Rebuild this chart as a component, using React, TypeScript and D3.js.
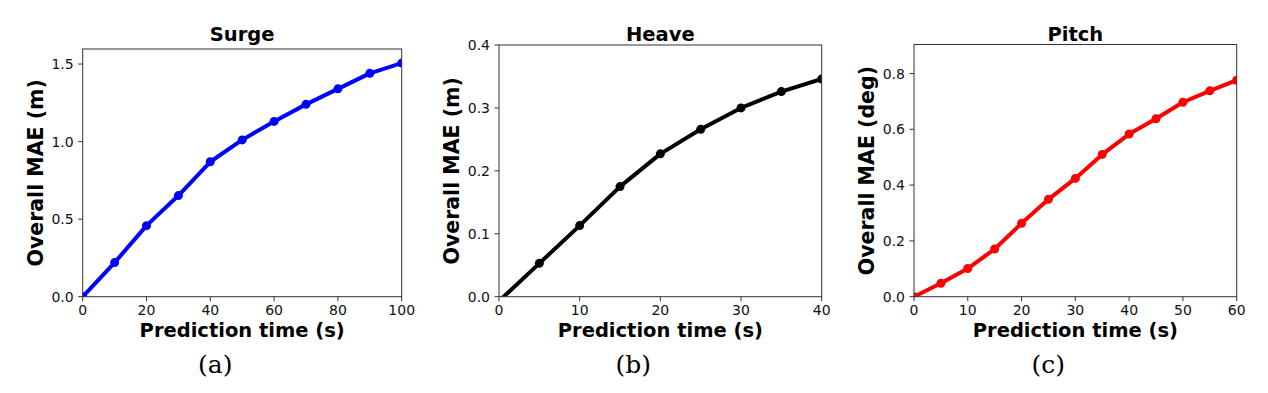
import React from 'react';
import * as d3 from 'd3';

// Prediction times (s) and overall MAE per panel
const surgeTimes = [0, 10, 20, 30, 40, 50, 60, 70, 80, 90, 100];
const surgeMae = [0, 0.22, 0.458, 0.652, 0.87, 1.011, 1.13, 1.24, 1.34, 1.44, 1.506];

const heaveTimes = [0, 5, 10, 15, 20, 25, 30, 35, 40];
const heaveMae = [-0.007, 0.053, 0.113, 0.175, 0.227, 0.266, 0.3, 0.326, 0.346];

const pitchTimes = [0, 5, 10, 15, 20, 25, 30, 35, 40, 45, 50, 55, 60];
const pitchMae = [0, 0.048, 0.101, 0.171, 0.263, 0.349, 0.424, 0.51, 0.583, 0.638, 0.697, 0.738, 0.776];

const surgeXTicks = [0, 20, 40, 60, 80, 100];
const surgeYTicks = [0, 0.5, 1.0, 1.5];
const heaveXTicks = [0, 10, 20, 30, 40];
const heaveYTicks = [0, 0.1, 0.2, 0.3, 0.4];
const pitchXTicks = [0, 10, 20, 30, 40, 50, 60];
const pitchYTicks = [0, 0.2, 0.4, 0.6, 0.8];

const titles = ['Surge', 'Heave', 'Pitch'];
const yLabels = ['Overall MAE (m)', 'Overall MAE (m)', 'Overall MAE (deg)'];
const subLabels = ['(a)', '(b)', '(c)'];
const xLabel = 'Prediction time (s)';

const W = 1268;
const H = 393;
const FONT = '"DejaVu Sans", sans-serif';

type PanelProps = {
  idx: number;
  box: { left: number; right: number; top: number; bottom: number };
  times: number[];
  values: number[];
  xDomain: [number, number];
  yDomain: [number, number];
  xTicks: number[];
  yTicks: number[];
  color: string;
};

const Panel = ({ idx, box, times, values, xDomain, yDomain, xTicks, yTicks, color }: PanelProps) => {
  const x = d3.scaleLinear().domain(xDomain).range([box.left, box.right]);
  const y = d3.scaleLinear().domain(yDomain).range([box.bottom, box.top]);
  const pts = times.map((t, i) => [t, values[i]] as [number, number]);
  const line = d3.line<[number, number]>()
    .x(d => x(d[0]))
    .y(d => y(d[1]));
  const cx = (box.left + box.right) / 2;
  const cy = (box.top + box.bottom) / 2;
  const clipId = 'clip' + idx;
  const yFmt = d3.format('.1f');

  return (
    <g>
      <defs>
        <clipPath id={clipId}>
          <rect x={box.left} y={box.top} width={box.right - box.left} height={box.bottom - box.top} />
        </clipPath>
      </defs>

      <g clipPath={`url(#${clipId})`}>
        <path d={line(pts) || ''} fill="none" stroke={color} strokeWidth={4} strokeLinejoin="round" />
        {pts.map((d, i) => (
          <circle key={i} cx={x(d[0])} cy={y(d[1])} r={4.5} fill={color} />
        ))}
      </g>

      <rect x={box.left} y={box.top} width={box.right - box.left} height={box.bottom - box.top}
        fill="none" stroke="#333" strokeWidth={1} />

      {xTicks.map(t => (
        <g key={'x' + t}>
          <line x1={x(t)} x2={x(t)} y1={box.bottom} y2={box.bottom + 4.5} stroke="#333" />
          <text x={x(t)} y={315} textAnchor="middle" fontSize={14} fontFamily={FONT} fill="#111">{t}</text>
        </g>
      ))}
      {yTicks.map(t => (
        <g key={'y' + t}>
          <line x1={box.left - 4.5} x2={box.left} y1={y(t)} y2={y(t)} stroke="#333" />
          <text x={box.left - 9} y={y(t)} dy="0.36em" textAnchor="end" fontSize={14} fontFamily={FONT} fill="#111">{yFmt(t)}</text>
        </g>
      ))}

      <text x={cx} y={40.7} textAnchor="middle" fontSize={19.5} fontWeight="bold" fontFamily={FONT}>{titles[idx]}</text>
      <text x={cx} y={337} textAnchor="middle" fontSize={19.5} fontWeight="bold" fontFamily={FONT}>{xLabel}</text>
      <text transform={`translate(${box.left - 40},${cy}) rotate(-90)`} textAnchor="middle"
        fontSize={20.5} fontWeight="bold" fontFamily={FONT}>{yLabels[idx]}</text>
      <text x={cx - 27} y={373} textAnchor="middle" fontSize={25} fontFamily={'"DejaVu Serif", serif'}>{subLabels[idx]}</text>
    </g>
  );
};

export default function App() {
  return (
    <svg width={W} height={H} style={{ position: 'fixed', left: 0, top: 0, background: '#fff' }}>
      <rect width={W} height={H} fill="#fff" />
      <Panel idx={0} box={{ left: 82.7, right: 401.7, top: 49, bottom: 296.7 }}
        times={surgeTimes} values={surgeMae} xDomain={[0, 100]} yDomain={[0, 1.597]}
        xTicks={surgeXTicks} yTicks={surgeYTicks} color="#0000ff" />
      <Panel idx={1} box={{ left: 499, right: 821.7, top: 45, bottom: 296.7 }}
        times={heaveTimes} values={heaveMae} xDomain={[0, 40]} yDomain={[0, 0.4]}
        xTicks={heaveXTicks} yTicks={heaveYTicks} color="#000000" />
      <Panel idx={2} box={{ left: 914, right: 1236.7, top: 44.5, bottom: 296.7 }}
        times={pitchTimes} values={pitchMae} xDomain={[0, 60]} yDomain={[0, 0.904]}
        xTicks={pitchXTicks} yTicks={pitchYTicks} color="#ff0000" />
    </svg>
  );
}
